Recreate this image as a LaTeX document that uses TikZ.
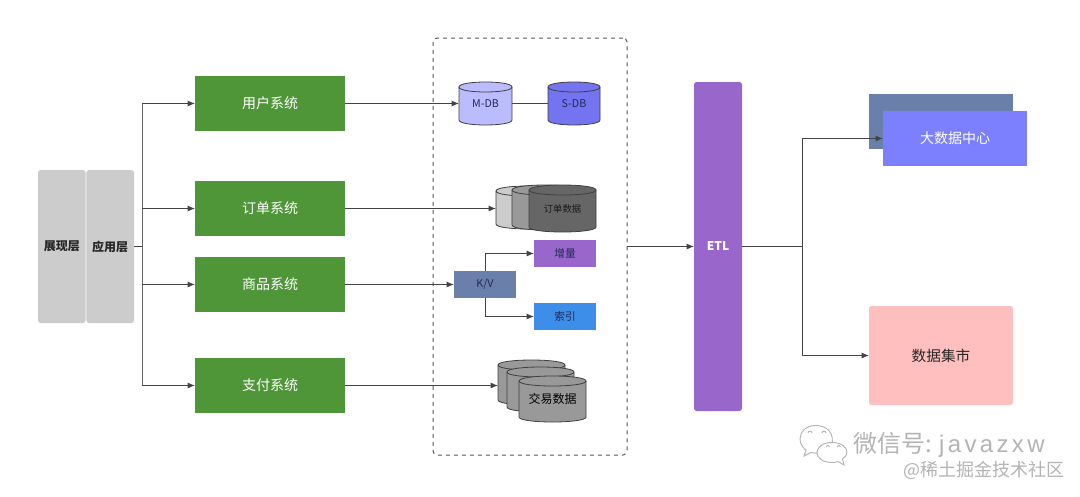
\documentclass[tikz,border=0pt]{standalone}
\usepackage{fontspec}
\setmainfont{Noto Sans CJK SC}
\newfontfamily\latinwm[LetterSpace=14]{Liberation Sans}
\usetikzlibrary{arrows.meta}
\definecolor{cgreen}{HTML}{4F9639}
\definecolor{cgrayb}{HTML}{CCCCCC}
\definecolor{cpurple}{HTML}{9966CC}
\definecolor{cblue}{HTML}{3D8EE8}
\definecolor{cslate}{HTML}{6B7FAB}
\definecolor{cviolet}{HTML}{7C80FF}
\definecolor{cpink}{HTML}{FFBFBF}
\definecolor{cmdb}{HTML}{BBBBFF}
\definecolor{csdb}{HTML}{7474F0}
\definecolor{cline}{HTML}{444444}
\definecolor{cwm}{HTML}{B4B4B4}
\definecolor{cnavy}{HTML}{1F2A55}
\tikzset{
  x=0.75pt,y=-0.75pt,
  boxbase/.style={anchor=north west,inner sep=0pt,outer sep=0pt},
  sysbox/.style={fill=cgreen,text=white,font=\fontsize{10.5}{12}\selectfont},
  layerbox/.style={fill=cgrayb,rounded corners=2pt,text=black!85,font=\fontsize{9}{11}\selectfont\bfseries},
  smallbox/.style={font=\fontsize{8}{10}\selectfont,text=cnavy},
  link/.style={draw=cline,line width=0.75pt},
  arrowlink/.style={link,-{Latex[length=5.5pt,width=4.5pt]}},
  cylline/.style={draw=black!75,line width=0.6pt},
  wmline/.style={draw=cwm,line width=0.7pt,fill=white},
}
\newcommand{\mybox}[7]{%
  \pgfmathsetmacro{\bw}{(#4-#2)*0.75}%
  \pgfmathsetmacro{\bh}{(#5-#3)*0.75}%
  \node[boxbase,minimum width=\bw pt,minimum height=\bh pt,#6] (#1) at (#2,#3) {#7};%
}
% name, x1, top, x2, bottom, fill, node style, text
\newcommand{\mycyl}[8]{%
  \pgfmathsetmacro{\ry}{5}%
  \pgfmathsetmacro{\ctl}{4/3*\ry}%
  \pgfmathsetmacro{\yt}{#3+\ry}%
  \pgfmathsetmacro{\yb}{#5-\ry}%
  \pgfmathsetmacro{\ytc}{\yt-\ctl}%
  \pgfmathsetmacro{\ytd}{\yt+\ctl}%
  \pgfmathsetmacro{\ybc}{\yb+\ctl}%
  \draw[cylline,fill=#6] (#2,\yt) -- (#2,\yb) .. controls (#2,\ybc) and (#4,\ybc) .. (#4,\yb)
     -- (#4,\yt) .. controls (#4,\ytc) and (#2,\ytc) .. (#2,\yt) -- cycle;
  \draw[cylline] (#2,\yt) .. controls (#2,\ytd) and (#4,\ytd) .. (#4,\yt);
  \pgfmathsetmacro{\bw}{(#4-#2)*0.75}%
  \pgfmathsetmacro{\bh}{(#5-#3)*0.75}%
  \node[boxbase,minimum width=\bw pt,minimum height=\bh pt,#7] (#1) at (#2,#3) {#8};%
}
\begin{document}
\begin{tikzpicture}
\useasboundingbox (0,0) rectangle (1080,496);
\fill[white] (0,0) rectangle (1080,496);
% left layers
\mybox{show}{38}{170}{85.6}{323}{layerbox}{展现层}
\mybox{app}{86.4}{170}{134}{323}{layerbox}{应用层}
% systems
\mybox{user}{195}{76}{345}{131}{sysbox}{用户系统}
\mybox{order}{195}{181}{345}{236}{sysbox}{订单系统}
\mybox{goods}{195}{257}{345}{312}{sysbox}{商品系统}
\mybox{pay}{195}{358}{345}{413}{sysbox}{支付系统}
% dashed store
\mybox{store}{433}{38}{627}{455}{draw=black!65,dashed,line width=0.75pt,rounded corners=3pt}{}
% databases
\mycyl{mdb}{459}{82}{512}{125}{cmdb}{smallbox}{M-DB}
\mycyl{sdb}{548}{82}{600}{125}{csdb}{smallbox}{S-DB}
\mycyl{oa}{496}{186}{560}{229}{cgrayb}{}{}
\mycyl{ob}{512}{185}{578}{230}{black!40}{}{}
\mycyl{oc}{529}{185}{596}{232}{black!60}{font=\fontsize{7}{9}\selectfont,text=black!90}{订单数据}
\mybox{kv}{454}{271}{516}{298}{fill=cslate,smallbox}{K/V}
\mybox{inc}{534}{240}{596}{267}{fill=cpurple,smallbox}{增量}
\mybox{idx}{534}{303}{596}{330}{fill=cblue,smallbox}{索引}
\mycyl{ta}{498}{360}{565}{405}{black!40}{}{}
\mycyl{tb}{507}{367}{574}{412}{black!40}{}{}
\mycyl{tc}{519}{376}{586}{422}{black!40}{font=\fontsize{9}{11}\selectfont,text=black}{交易数据}
% ETL and targets
\mybox{etl}{694}{82}{742}{411}{fill=cpurple,rounded corners=2pt,text=white,font=\fontsize{9}{11}\selectfont\bfseries}{ETL}
\mybox{back}{869}{94}{1013}{149}{fill=cslate}{}
\mybox{front}{883}{111}{1027}{166}{fill=cviolet,text=white,font=\fontsize{10.5}{12}\selectfont}{大数据中心}
\mybox{mart}{869}{306}{1013}{405}{fill=cpink,rounded corners=2pt,text=black!85,font=\fontsize{11}{13}\selectfont}{数据集市}
% connectors
\coordinate (lj) at (142,246.5);
\coordinate (rj) at (802,246.5);
\draw[link] (app.east) -- (lj);
\draw[link,draw=black!60] (lj |- user.west) -- (lj |- pay.west);
\foreach \t in {user,order,goods,pay}{
  \draw[arrowlink] (lj |- \t.west) -- (\t.west);
}
\draw[arrowlink] (user.east) -- (mdb.west);
\draw[link] (mdb.east) -- (sdb.west);
\draw[arrowlink] (order.east) -- (oa.west |- order.east);
\draw[arrowlink] (goods.east) -- (kv.west |- goods.east);
\draw[arrowlink] (pay.east) -- (ta.west |- pay.east);
\draw[arrowlink] (kv.north) |- (inc.west);
\draw[arrowlink] (kv.south) |- (idx.west);
\draw[arrowlink] (store.east) -- (etl.west);
\draw[link] (etl.east) -- (rj);
\draw[link] (rj |- front.west) -- (rj |- mart.west);
\draw[arrowlink] (rj |- front.west) -- (front.west);
\draw[arrowlink] (rj |- mart.west) -- (mart.west);
% watermark
\draw[wmline] (815.5,425.5) .. controls (806,425.5) and (800,432) .. (800,439)
  .. controls (800,444) and (803,448) .. (806,450) -- (804,456) -- (811,452.5)
  .. controls (818,454) and (826,453) .. (830,448)
  .. controls (835,441) and (833,425.5) .. (815.5,425.5) -- cycle;
\draw[wmline] (832,442.5) .. controls (823,442.5) and (817,447) .. (817,452.5)
  .. controls (817,458) and (823,462.5) .. (832,462.5)
  .. controls (835,462.5) and (837,462) .. (838,461.5) -- (844,465) -- (842.5,459)
  .. controls (845,457) and (847,455) .. (847,452.5)
  .. controls (847,447) and (841,442.5) .. (832,442.5) -- cycle;
\draw[cwm,line width=0.7pt] (808,433) arc[start angle=180,end angle=0,radius=1.5pt]
  (822,433) arc[start angle=180,end angle=0,radius=1.5pt]
  (826,447) arc[start angle=180,end angle=0,radius=1.3pt]
  (837,447) arc[start angle=180,end angle=0,radius=1.3pt];
\node[anchor=west,inner sep=0pt,text=cwm,font=\fontsize{18}{20}\selectfont] (wx) at (853,445) {微信号: {\latinwm javazxw}};
\node[anchor=west,inner sep=0pt,text=cwm,font=\fontsize{13.5}{15}\selectfont] (jj) at (903,470) {@稀土掘金技术社区};
\end{tikzpicture}
\end{document}
